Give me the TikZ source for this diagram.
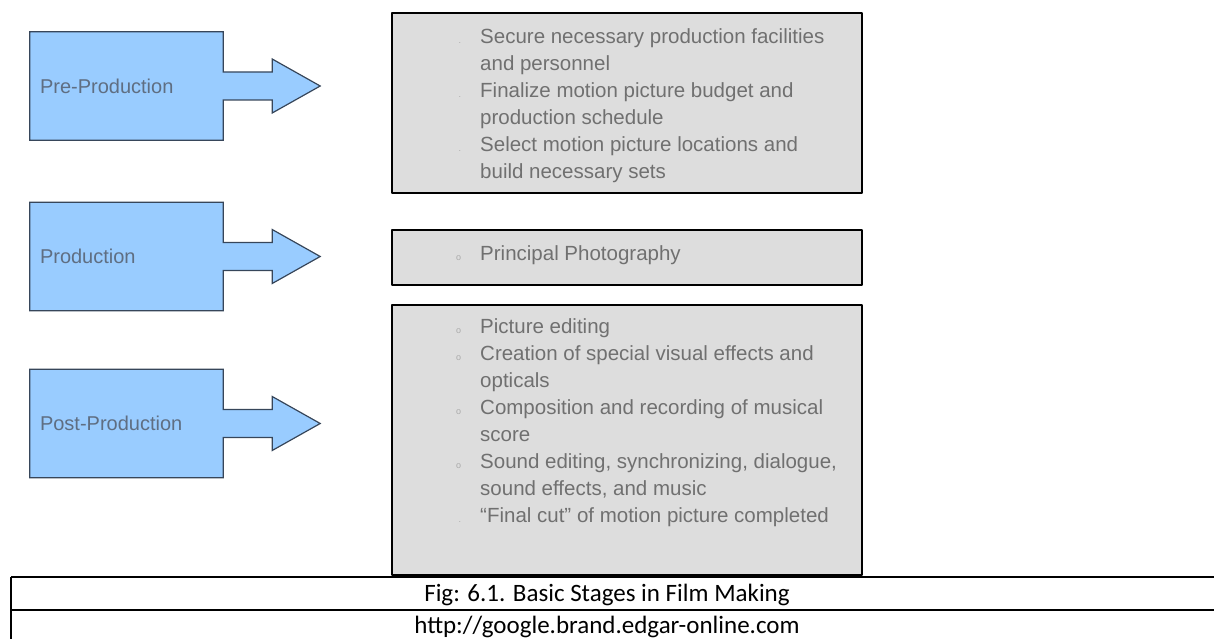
\documentclass[tikz,border=0pt]{standalone}
\usepackage{fontspec}
\setmainfont{Liberation Sans}
\newfontfamily\capfont{Carlito}
\usetikzlibrary{calc,positioning,backgrounds}
\definecolor{stageblue}{RGB}{153,204,255}
\definecolor{stageline}{RGB}{55,70,90}
\definecolor{stagetext}{RGB}{95,110,130}
\definecolor{taskgray}{RGB}{221,221,221}
\definecolor{tasktext}{RGB}{112,112,112}
\definecolor{bulletgray}{RGB}{170,170,170}
\newcommand{\taskbul}[1]{\llap{\textcolor{bulletgray}{\fontsize{9}{9}\selectfont #1}\hspace{19pt}}}

\begin{document}
\begin{tikzpicture}[x=1pt, y=-1pt, line cap=round, line join=round,
    stage/.style={minimum width=193pt, minimum height=108pt, inner xsep=10pt,
        text width=173pt, align=left, font=\fontsize{20}{24}\selectfont, text=stagetext},
    task/.style={draw=black, line width=1.8pt, fill=taskgray, inner sep=0pt},
    tasklbl/.style={font=\fontsize{20.5}{27}\selectfont, text=tasktext, align=left,
        anchor=north west, inner sep=0pt},
    capt/.style={font=\capfont\fontsize{25}{30}\selectfont, anchor=base}]
    \useasboundingbox (0,0) rectangle (1214,639);

    % stages
    \node[stage] (pre)  at (126.5,86)    {Pre-Production};
    \node[stage] (prod) at (126.5,256.5) {Production};
    \node[stage] (post) at (126.5,423.5) {Post-Production};

    \begin{scope}[on background layer]
    \foreach \s in {pre,prod,post}
        \filldraw[fill=stageblue, draw=stageline, line width=1.2pt]
            (\s.north west) -- (\s.north east) -- ($(\s.east)+(0,-14)$) -- ++(49,0) -- ++(0,-13)
            -- ($(\s.east)+(97,0)$) -- ($(\s.east)+(49,27)$) -- ++(0,-13) -- ($(\s.east)+(0,14)$)
            -- (\s.south east) -- (\s.south west) -- cycle;
    \end{scope}

    % tasks
    \node[task, minimum width=470pt, minimum height=180pt] (tpre)  at (627,103)   {};
    \node[task, minimum width=470pt, minimum height=55pt]  (tprod) at (627,257.5) {};
    \node[task, minimum width=470pt, minimum height=270pt] (tpost) at (627,440)   {};

    \node[tasklbl] (tpretxt) at (480,28) {\taskbul{.}Secure necessary production facilities\\
        and personnel\\
        \taskbul{.}Finalize motion picture budget and\\
        production schedule\\
        \taskbul{.}Select motion picture locations and\\
        build necessary sets};
    \node[tasklbl] (tprodtxt) at (480,245) {\taskbul{o}Principal Photography};
    \node[tasklbl] (tposttxt) at (480,318) {\taskbul{o}Picture editing\\
        \taskbul{o}Creation of special visual effects and\\
        opticals\\
        \taskbul{o}Composition and recording of musical\\
        score\\
        \taskbul{o}Sound editing, synchronizing, dialogue,\\
        sound effects, and music\\
        \taskbul{.}``Final cut'' of motion picture completed};

    % caption table
    \coordinate (capnw) at (11,577);
    \coordinate (capne) at (1214,577);
    \coordinate (capmw) at (11,610);
    \coordinate (capme) at (1214,610);
    \coordinate (capsw) at (11,639);
    \draw[line width=1.5pt, line cap=butt] (capnw) -- (capne);
    \draw[line width=1.5pt, line cap=butt] (capmw) -- (capme);
    \draw[line width=1.5pt, line cap=butt] (capnw) -- (capsw);
    \node[capt] (figcap) at (607,601) {Fig: 6.1. Basic Stages in Film Making};
    \node[capt] (figsrc) at (607,633) {http://google.brand.edgar-online.com};
\end{tikzpicture}
\end{document}
